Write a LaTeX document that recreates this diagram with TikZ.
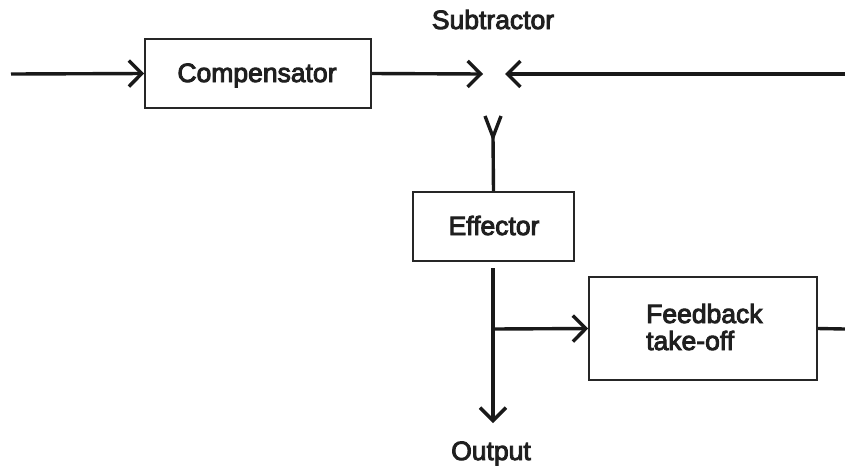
\documentclass[tikz,border=0pt]{standalone}
\usepackage{fontspec}
\newfontfamily\lblfont{Liberation Sans}[FakeBold=3.5]
\usetikzlibrary{arrows.meta,calc}
\begin{document}
\begin{tikzpicture}[x=1pt,y=-1pt,
  box/.style={draw=black!85,line width=1.6pt,inner sep=0pt},
  lbl/.style={inner sep=0pt,font=\lblfont\fontsize{26.5}{26.5}\selectfont,text=black!88},
  conn/.style={draw=black!90,line width=3.4pt},
  chev/.style={-{Straight Barb[length=13pt,width=26pt,line width=3.4pt]}}]
\useasboundingbox (0,0) rectangle (845,467);
% nodes
\node[box,minimum width=226pt,minimum height=69pt] (comp) at (258,73.5) {};
\node[lbl,anchor=base] at (257,82) {Compensator};
\node[box,minimum width=161pt,minimum height=69pt] (eff) at (493.5,226.5) {};
\node[lbl,anchor=base] at (494,235) {Effector};
\node[box,minimum width=228pt,minimum height=103pt] (fb) at (703,328.5) {};
\node[lbl,anchor=base west] at (646,323) {Feedback};
\node[lbl,anchor=base west] at (646,350) {take-off};
\node[lbl,anchor=base] (sublbl) at (493,29) {Subtractor};
\node[lbl,anchor=base] (outlbl) at (491,460) {Output};
% coordinates
\coordinate (inL) at (11,74);
\coordinate (sumL) at (483,74);
\coordinate (sumR) at (505,74);
\coordinate (inR) at (845,74);
\coordinate (subtip) at (493,137);
\coordinate (effout) at (493,268);
\coordinate (branch) at (493,329);
\coordinate (outtip) at (493,423);
\coordinate (fbout) at (845,329);
% connectors
\draw[conn,chev] (inL) -- (comp.west);
\draw[conn,chev] (comp.east) -- (sumL);
\draw[conn,chev] (inR) -- (sumR);
\draw[conn] (subtip) -- (eff.north);
\draw[conn,line join=miter] ($(subtip)+(-8,-21)$) -- (subtip) -- ($(subtip)+(8,-21)$);
\draw[conn,chev] (effout) -- (outtip);
\draw[conn,chev] (branch) -- (fb.west);
\draw[conn] (fb.east) -- (fbout);
\end{tikzpicture}
\end{document}
